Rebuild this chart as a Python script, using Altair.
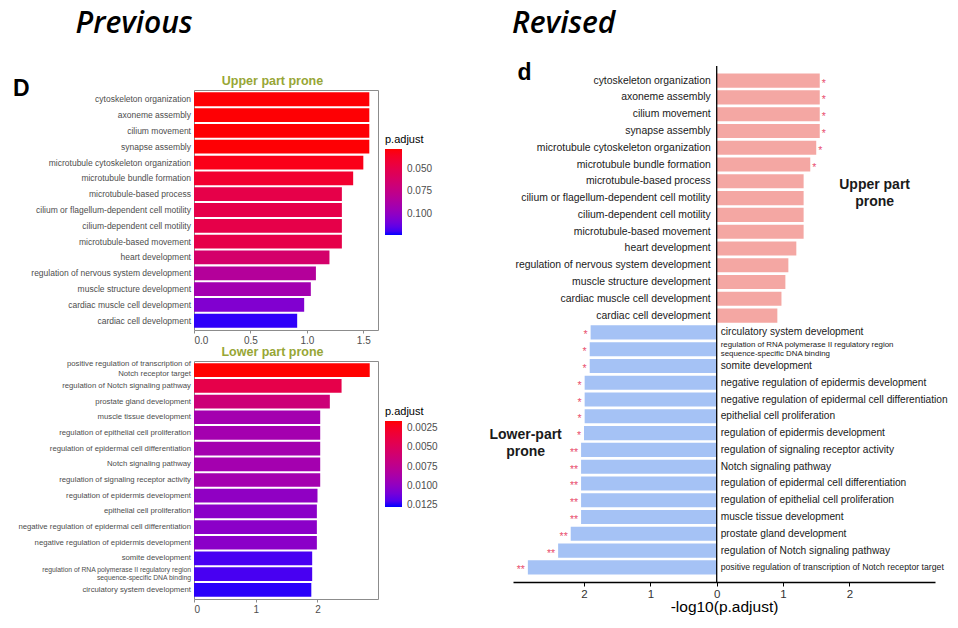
import altair as alt
import pandas as pd

FONT = "Liberation Sans"
HEAD_FONT = "Open Sans"

# ---------------- data ----------------
upper_terms = [
    "cytoskeleton organization", "axoneme assembly", "cilium movement", "synapse assembly",
    "microtubule cytoskeleton organization", "microtubule bundle formation",
    "microtubule-based process", "cilium or flagellum-dependent cell motility",
    "cilium-dependent cell motility", "microtubule-based movement", "heart development",
    "regulation of nervous system development", "muscle structure development",
    "cardiac muscle cell development", "cardiac cell development",
]
upper_logp = [1.553, 1.553, 1.553, 1.553, 1.50, 1.41, 1.31, 1.31, 1.31, 1.31, 1.20, 1.08, 1.035, 0.976, 0.914]
upper_stars = ["*", "*", "*", "*", "*", "*", "", "", "", "", "", "", "", "", ""]

lower_terms = [
    "positive regulation of transcription of Notch receptor target",
    "regulation of Notch signaling pathway", "prostate gland development",
    "muscle tissue development", "regulation of epithelial cell proliferation",
    "regulation of epidermal cell differentiation", "Notch signaling pathway",
    "regulation of signaling receptor activity", "regulation of epidermis development",
    "epithelial cell proliferation", "negative regulation of epidermal cell differentiation",
    "negative regulation of epidermis development", "somite development",
    "regulation of RNA polymerase II regulatory region sequence-specific DNA binding",
    "circulatory system development",
]
lower_logp = [2.846, 2.39, 2.20, 2.044, 2.044, 2.044, 2.044, 2.044, 2.0, 1.99, 1.99, 1.99, 1.914, 1.914, 1.90]
lower_stars = ["**"] * 8 + ["*"] * 7
lower_labels_prev = [
    "positive regulation of transcription of\nNotch receptor target",
    "regulation of Notch signaling pathway", "prostate gland development",
    "muscle tissue development", "regulation of epithelial cell proliferation",
    "regulation of epidermal cell differentiation", "Notch signaling pathway",
    "regulation of signaling receptor activity", "regulation of epidermis development",
    "epithelial cell proliferation", "negative regulation of epidermal cell differentiation",
    "negative regulation of epidermis development", "somite development",
    "regulation of RNA polymerase II regulatory region\nsequence-specific DNA binding",
    "circulatory system development",
]
lower_labels_rev = list(lower_terms)
lower_labels_rev[13] = "regulation of RNA polymerase II regulatory region\nsequence-specific DNA binding"

upper_p_ticks = [0.050, 0.075, 0.100]
lower_p_ticks = [0.0025, 0.0050, 0.0075, 0.0100, 0.0125]
upper_p_range = [0.0273, 0.1242]
lower_p_range = [0.00153, 0.0128]
rev_ticks = [-2, -1, 0, 1, 2]

df_up = pd.DataFrame({"term": upper_terms, "logp": upper_logp, "label": upper_terms, "stars": upper_stars})
df_lo = pd.DataFrame({"term": lower_terms, "logp": lower_logp, "label": lower_labels_prev,
                      "stars": lower_stars})

rev_up = pd.DataFrame({"term": upper_terms, "value": upper_logp, "label": upper_terms,
                       "stars": upper_stars, "group": "Upper"})
rev_lo = pd.DataFrame({"term": lower_terms[::-1], "value": [-v for v in lower_logp[::-1]],
                       "label": lower_labels_rev[::-1], "stars": lower_stars[::-1], "group": "Lower"})
df_rev = pd.concat([rev_up, rev_lo], ignore_index=True)
rev_order = upper_terms + lower_terms[::-1]

one = pd.DataFrame({"a": [0]})
OLIVE = "#97A635"
SINGLE = "indexof(datum.label, '\\n') < 0"


def text_at(txt, x, y, **kw):
    return alt.Chart(one).mark_text(text=txt, **kw).encode(x=alt.value(x), y=alt.value(y))


def left_panel(df, title, xmax, xticks, xfmt, prange, pticks, cfmt, legend_y, fsize, height,
               multi=(), extra=()):
    # colour field is -p.adjust so that the vertical gradient shows the smallest p.adjust (red) on top
    base = alt.Chart(df).transform_calculate(negp="-pow(10, -datum.logp)")
    yenc = alt.Y("term:N", axis=None,
                 scale=alt.Scale(domain=list(df["term"]), paddingInner=0.13, paddingOuter=0.15))
    xscale = alt.Scale(domain=[0, xmax], nice=False, zero=True)
    bars = base.mark_bar().encode(
        x=alt.X("logp:Q", scale=xscale,
                axis=alt.Axis(values=xticks, format=xfmt, title=None, labelFontSize=10,
                              labelColor="#4d4d4d", tickColor="#8c8c8c", tickSize=3,
                              domain=False, grid=False, labelPadding=2)),
        x2=alt.datum(0),
        y=yenc,
        color=alt.Color("negp:Q",
                        scale=alt.Scale(domain=[-prange[1], -prange[0]], range=["#0000ff", "#ff0000"],
                                        interpolate="lab"),
                        legend=alt.Legend(title="p.adjust", orient="none", legendX=191, legendY=legend_y,
                                          direction="vertical", gradientLength=86, gradientThickness=17,
                                          values=[-v for v in pticks],
                                          labelExpr="format(-datum.value, '" + cfmt + "')",
                                          titleFontSize=11, titleFontWeight="normal", titleColor="black",
                                          labelFontSize=10, labelColor="#4d4d4d", titlePadding=4,
                                          labelOffset=5, gradientStrokeWidth=0)),
    )
    layers = [bars]
    layers.append(base.transform_filter(SINGLE).mark_text(
        align="right", baseline="middle", dx=-3, color="#4d4d4d", fontSize=fsize).encode(
        x=alt.datum(0), y=yenc, text="label:N"))
    for key, fs, lh, dy in multi:
        layers.append(base.transform_filter("indexof(datum.term, '%s') >= 0" % key).mark_text(
            align="right", baseline="middle", dx=-3, dy=dy, color="#4d4d4d", fontSize=fs,
            lineBreak="\n", lineHeight=lh).encode(x=alt.datum(0), y=yenc, text="label:N"))
    layers.append(text_at(title, 78.5, -9.5, fontSize=12.5, fontWeight="bold", color=OLIVE,
                          align="center", baseline="middle"))
    return alt.layer(*layers, *extra).properties(
        width=184, height=height, view=alt.ViewBackground(stroke="#8c8c8c", strokeWidth=1))


d_big = text_at("D", -181, 5.5, fontSize=23, fontWeight="bold", color="black", align="left",
                baseline="alphabetic")
prev_head = text_at("Previous", -118.5, -57.5, font=HEAD_FONT, fontSize=30, fontStyle="italic",
                    fontWeight=600, color="black", align="left", baseline="alphabetic")

upper_left = left_panel(df_up, "Upper part prone", 1.63, [0, 0.5, 1, 1.5], ".1f",
                        upper_p_range, upper_p_ticks, ".3f", 44, 8.5, 240,
                        extra=(d_big, prev_head))
lower_left = left_panel(df_lo, "Lower part prone", 2.98, [0, 1, 2], "d",
                        lower_p_range, lower_p_ticks, ".4f", 45, 7.75, 238,
                        multi=(("positive regulation", 7.75, 10, -6.2), ("RNA", 6.8, 8, -4)))

spacer = alt.Chart(one).mark_point(opacity=0).encode(x=alt.value(0), y=alt.value(0)).properties(
    width=184, height=24)

# ---------------- revised panel ----------------
PINK = "#F4A7A3"
BLUE = "#A5C2F5"
STAR = "#E9506F"
rbase = alt.Chart(df_rev)
ry = alt.Y("term:N", axis=None,
           scale=alt.Scale(domain=rev_order, paddingInner=0.16, paddingOuter=0.45))
rxs = alt.Scale(domain=[-3.07, 3.29], nice=False, zero=False)
rbars = rbase.mark_bar().encode(
    x=alt.X("value:Q", scale=rxs,
            axis=alt.Axis(values=rev_ticks, labelExpr="abs(datum.value)", title="-log10(p.adjust)",
                          titleFontSize=15.5, titleFontWeight="normal", titleColor="black",
                          titlePadding=0, labelFontSize=11.5, labelColor="#333333", labelPadding=2,
                          domainColor="black", domainWidth=1.5, tickColor="black", tickSize=4,
                          grid=False)),
    x2=alt.datum(0),
    y=ry,
    color=alt.Color("group:N", scale=alt.Scale(domain=["Upper", "Lower"], range=[PINK, BLUE]), legend=None),
)
zero_rule = alt.Chart(one).mark_rule(color="black", strokeWidth=1.3).encode(x=alt.datum(0))
lab_up = rbase.transform_filter("datum.group == 'Upper'").mark_text(
    align="right", baseline="middle", dx=-6, color="#1a1a1a", fontSize=10.4).encode(
    x=alt.datum(0), y=ry, text="label:N")
lab_lo = rbase.transform_filter(
    "datum.group == 'Lower' && " + SINGLE + " && indexof(datum.term, 'positive regulation') < 0").mark_text(
    align="left", baseline="middle", dx=4, color="#1a1a1a", fontSize=10.2).encode(
    x=alt.datum(0), y=ry, text="label:N")
lab_pos = rbase.transform_filter("indexof(datum.term, 'positive regulation') == 0").mark_text(
    align="left", baseline="middle", dx=4, color="#1a1a1a", fontSize=8.7).encode(
    x=alt.datum(0), y=ry, text="label:N")
lab_rna = rbase.transform_filter("indexof(datum.term, 'RNA') >= 0").mark_text(
    align="left", baseline="middle", dx=4, dy=-4.3, color="#1a1a1a", fontSize=7.9,
    lineBreak="\n", lineHeight=9.2).encode(
    x=alt.datum(0), y=ry, text="label:N")
star_up = rbase.transform_filter("datum.group == 'Upper'").mark_text(
    align="left", baseline="middle", dx=2, dy=3, color=STAR, fontSize=10.5).encode(
    x="value:Q", y=ry, text="stars:N")
star_lo = rbase.transform_filter("datum.group == 'Lower'").mark_text(
    align="right", baseline="middle", dx=-3, dy=3, color=STAR, fontSize=10.5).encode(
    x="value:Q", y=ry, text="stars:N")
up_note = alt.Chart(pd.DataFrame({"term": ["microtubule-based process"]})).mark_text(
    text="Upper part\nprone", lineBreak="\n", lineHeight=17, fontSize=14, fontWeight="bold",
    color="#1a1a1a", align="center", baseline="middle", dy=4).encode(
    x=alt.datum(2.38), y=alt.Y("term:N"))
lo_note = alt.Chart(pd.DataFrame({"term": ["regulation of epidermis development"]})).mark_text(
    text="Lower-part\nprone", lineBreak="\n", lineHeight=17, fontSize=14, fontWeight="bold",
    color="#1a1a1a", align="center", baseline="middle", dy=2).encode(
    x=alt.datum(-2.88), y=alt.Y("term:N"))
d_small = text_at("d", 4.5, 13.5, fontSize=23, fontWeight="bold", color="black", align="left",
                  baseline="alphabetic")
rev_head = text_at("Revised", -1, -33.5, font=HEAD_FONT, fontSize=30, fontStyle="italic",
                   fontWeight=600, color="black", align="left", baseline="alphabetic")

revised = alt.layer(rbars, zero_rule, lab_up, lab_lo, lab_pos, lab_rna, star_up, star_lo,
                    up_note, lo_note, d_small, rev_head).properties(width=422, height=516)

left_inner = alt.vconcat(upper_left, lower_left, spacing=31, bounds="flush").resolve_scale(
    color="independent", x="independent", y="independent")
left_col = alt.vconcat(spacer, left_inner, spacing=0, bounds="flush").resolve_scale(
    color="independent", x="independent", y="independent")

chart = alt.hconcat(left_col, revised, spacing=319, bounds="flush").resolve_scale(
    color="independent", x="independent", y="independent").properties(
    padding={"left": 4, "top": 0, "right": 0, "bottom": 0}).configure_view(
    stroke=None).configure_axis(labelFont=FONT, titleFont=FONT).configure_legend(
    labelFont=FONT, titleFont=FONT).configure_text(font=FONT)

chart.save("out.html", embed_options={"renderer": "svg", "actions": False})
